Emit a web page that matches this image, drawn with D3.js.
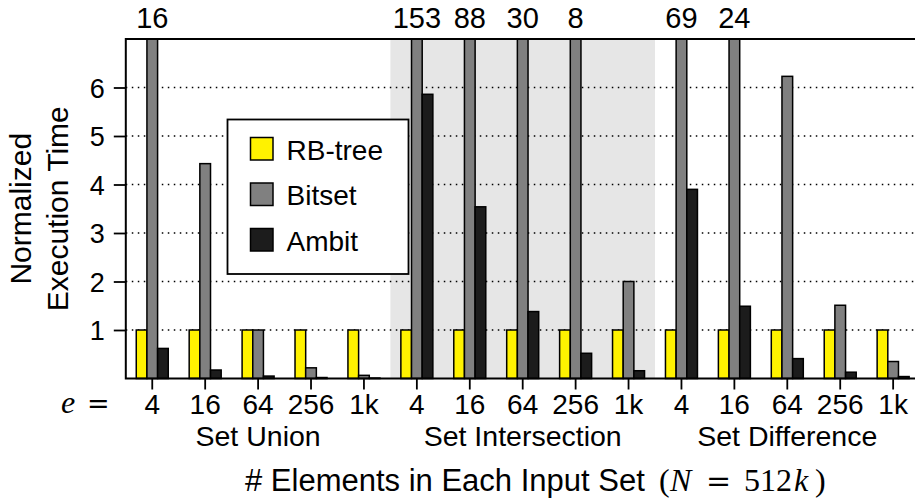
<!DOCTYPE html>
<html>
<head>
<meta charset="utf-8">
<script src="https://cdn.jsdelivr.net/npm/d3@7"></script>
<style>
  body { margin: 0; background: #fff; }
  svg { display: block; }
  text { font-family: "Liberation Sans", Arial, sans-serif; fill: #000; }
</style>
</head>
<body>
<svg id="chart" width="915" height="501"></svg>
<script>
(() => {
    'use strict';

    // data
    const groups = ['Set Union', 'Set Intersection', 'Set Difference'];
    const sizes = ['4', '16', '64', '256', '1k'];
    const series = ['RB-tree', 'Bitset', 'Ambit'];
    const rbtree = [1, 1, 1, 1, 1, 1, 1, 1, 1, 1, 1, 1, 1, 1, 1];
    const bitset = [16, 4.43, 1, 0.22, 0.065, 153, 88, 30, 8, 2.0, 69, 24, 6.23, 1.51, 0.35];
    const ambit = [0.62, 0.175, 0.05, 0.02, 0.01, 5.86, 3.54, 1.38, 0.52, 0.16, 3.9, 1.49, 0.41, 0.13, 0.04];
    const yTicks = [1, 2, 3, 4, 5, 6];
    const yMax = 7;

    const colors = { 'RB-tree': '#fff200', 'Bitset': '#808080', 'Ambit': '#1c1c1c' };
    const serif = '"Liberation Serif", "DejaVu Serif", serif';

    const left = 125.8, right = 919.6, top = 39, bottom = 378.5;

    // one row per x position
    const rows = [];
    groups.forEach((g, gi) => {
        sizes.forEach((s, si) => {
            const i = gi * sizes.length + si;
            rows.push({ group: g, size: s, idx: i, values: { 'RB-tree': rbtree[i], 'Bitset': bitset[i], 'Ambit': ambit[i] } });
        });
    });

    const svg = d3.select('#chart');

    const x = d3.scaleBand()
        .domain(rows.map(d => d.idx))
        .range([left, right]);

    const xSub = d3.scaleBand()
        .domain(series)
        .range([-16, 16]);

    const y = d3.scaleLinear()
        .domain([0, yMax])
        .range([bottom, top]);

    // shaded intersection block
    const inter = rows.filter(d => d.group === 'Set Intersection');
    svg.append('rect')
        .attr('x', x(inter[0].idx))
        .attr('y', top)
        .attr('width', x(inter[inter.length - 1].idx) + x.bandwidth() - x(inter[0].idx))
        .attr('height', bottom - top)
        .attr('fill', '#e6e6e6');

    // dotted grid
    svg.append('g')
        .selectAll('line')
        .data(yTicks)
        .enter()
        .append('line')
        .attr('x1', left)
        .attr('x2', right)
        .attr('y1', d => y(d))
        .attr('y2', d => y(d))
        .attr('stroke', '#000')
        .attr('stroke-width', 1.5)
        .attr('stroke-dasharray', '1.5,4.5');

    // bars
    const cols = svg.append('g')
        .selectAll('g')
        .data(rows)
        .enter()
        .append('g')
        .attr('transform', d => 'translate(' + (x(d.idx) + x.bandwidth() / 2) + ',0)');

    cols.selectAll('rect')
        .data(d => series.map(s => ({ key: s, value: d.values[s] })))
        .enter()
        .append('rect')
        .attr('x', d => xSub(d.key))
        .attr('width', xSub.bandwidth())
        .attr('y', d => y(Math.min(d.value, yMax)))
        .attr('height', d => bottom - y(Math.min(d.value, yMax)))
        .attr('fill', d => colors[d.key])
        .attr('stroke', '#000')
        .attr('stroke-width', 1.5);

    // values of clipped bars
    svg.append('g')
        .selectAll('text')
        .data(rows.filter(d => d.values['Bitset'] > yMax))
        .enter()
        .append('text')
        .attr('x', d => x(d.idx) + x.bandwidth() / 2 + xSub('Bitset') + xSub.bandwidth() / 2)
        .attr('y', 28)
        .attr('text-anchor', 'middle')
        .style('font-size', '29px')
        .text(d => d.values['Bitset']);

    // y axis
    const yAxis = d3.axisLeft(y)
        .tickValues(yTicks)
        .tickFormat(d3.format('d'))
        .tickSize(12)
        .tickPadding(9);

    const gy = svg.append('g')
        .attr('transform', 'translate(' + left + ',0)')
        .call(yAxis);
    gy.select('.domain').remove();
    gy.selectAll('.tick line').attr('stroke-width', 1.8);
    gy.selectAll('.tick text')
        .attr('dy', '0.36em')
        .style('font-size', '27px')
        .style('font-family', '"Liberation Sans", Arial, sans-serif');

    // x axis
    const xAxis = d3.axisBottom(x)
        .tickSize(11)
        .tickPadding(5)
        .tickFormat(i => rows[i].size);

    const gx = svg.append('g')
        .attr('transform', 'translate(0,' + bottom + ')')
        .call(xAxis);
    gx.select('.domain').remove();
    gx.selectAll('.tick line').attr('stroke-width', 1.8);
    gx.selectAll('.tick text')
        .style('font-size', '28px')
        .style('font-family', '"Liberation Sans", Arial, sans-serif');

    // frame
    svg.append('path')
        .attr('d', 'M' + right + ',' + top + 'H' + left + 'V' + bottom + 'H' + right)
        .attr('fill', 'none')
        .attr('stroke', '#000')
        .attr('stroke-width', 2);

    // e =
    const eq = svg.append('text')
        .attr('y', 413)
        .style('font-size', '32px')
        .style('font-family', serif);
    eq.append('tspan')
        .attr('x', 61)
        .style('font-style', 'italic')
        .text('e');
    eq.append('tspan')
        .attr('x', 87)
        .style('font-family', '"DejaVu Serif", serif')
        .style('font-size', '27px')
        .text('=');

    // group labels under middle tick
    svg.append('g')
        .selectAll('text')
        .data(groups)
        .enter()
        .append('text')
        .attr('x', (g, gi) => x(gi * sizes.length + 2) + x.bandwidth() / 2)
        .attr('y', 446)
        .attr('text-anchor', 'middle')
        .style('font-size', '28.5px')
        .text(g => g);

    // x title: sans words, then TeX-like math part
    const xt = svg.append('text')
        .attr('y', 491)
        .style('font-size', '31px');
    xt.append('tspan').attr('x', 245).text('# Elements in Each Input Set');
    const mathParts = [
        { t: '(', x: 659, it: false, f: serif, s: 32 },
        { t: 'N', x: 670, it: true, f: serif, s: 32 },
        { t: '=', x: 706, it: false, f: '"DejaVu Serif", serif', s: 30 },
        { t: '512', x: 744, it: false, f: serif, s: 32 },
        { t: 'k', x: 794, it: true, f: serif, s: 32 },
        { t: ')', x: 815, it: false, f: serif, s: 32 }
    ];
    mathParts.forEach(p => {
        xt.append('tspan')
            .attr('x', p.x)
            .style('font-family', p.f)
            .style('font-style', p.it ? 'italic' : 'normal')
            .style('font-size', p.s + 'px')
            .text(p.t);
    });

    // y title, two lines
    const yt = svg.append('text')
        .attr('transform', 'translate(0,' + ((top + bottom) / 2) + ') rotate(-90)')
        .attr('text-anchor', 'middle')
        .style('font-size', '30px');
    yt.append('tspan').attr('x', 0).attr('y', 31).text('Normalized');
    yt.append('tspan').attr('x', 0).attr('y', 68).text('Execution Time');

    // legend
    const lg = svg.append('g').attr('transform', 'translate(227.5,119.5)');
    lg.append('rect')
        .attr('width', 181)
        .attr('height', 154.5)
        .attr('fill', '#fff')
        .attr('stroke', '#000')
        .attr('stroke-width', 1.8);

    const items = lg.selectAll('g')
        .data(series)
        .enter()
        .append('g')
        .attr('transform', (d, i) => 'translate(23,' + (18 + i * 45.5) + ')');
    items.append('rect')
        .attr('width', 22.5)
        .attr('height', 22.5)
        .attr('fill', d => colors[d])
        .attr('stroke', '#000')
        .attr('stroke-width', 1.5);
    items.append('text')
        .attr('x', 36)
        .attr('y', 22)
        .style('font-size', '28px')
        .text(d => d);
})();
</script>
</body>
</html>
